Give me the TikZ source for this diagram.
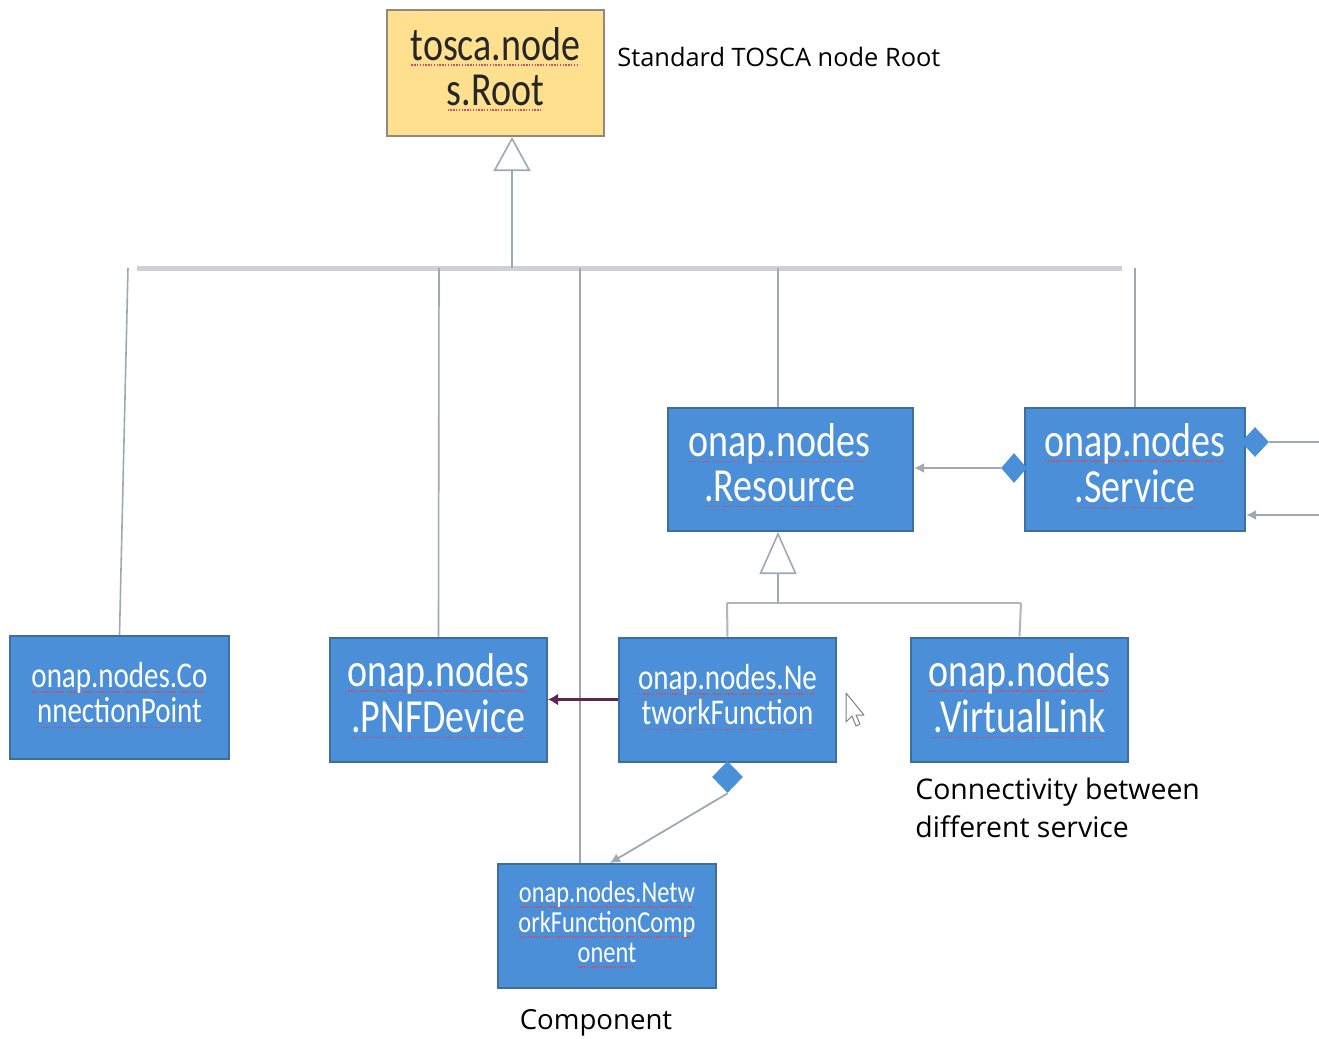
\documentclass[tikz,border=0pt]{standalone}
\usepackage{fontspec}
\setmainfont{Open Sans}
\newfontfamily\boxfont{Carlito}
\usepackage{graphicx}
\usetikzlibrary{arrows.meta,shapes.geometric}
\definecolor{boxblue}{HTML}{4B8FD8}
\definecolor{boxedge}{HTML}{3E6E9E}
\definecolor{rootfill}{HTML}{FFE08E}
\definecolor{rootedge}{HTML}{8E8A80}
\definecolor{squig}{HTML}{C4506C}
\definecolor{conn}{HTML}{9FA9B5}
\definecolor{busgray}{HTML}{CDD1D5}
\definecolor{bus2gray}{HTML}{B2B6BA}
\definecolor{plum}{HTML}{5E2750}
\newcommand\squl[2]{\setbox0\hbox{\color{#1}#2}\rlap{\color{squig}\raisebox{-2.2pt}{\hbox to \wd0{\leaders\hbox to 1.4pt{\hss\vrule width 0.7pt height 0.5pt depth 0pt\hss}\hfill}}}\box0}
\newcommand\sqw[1]{\squl{white}{#1}}
\newcommand\sqd[1]{\squl{black!85}{#1}}
\newcommand\bt[4]{\scalebox{1}[1.25]{\boxfont\fontsize{#1}{#2}\selectfont\begin{tabular}{@{}c@{}}\sqw{#3}\\\sqw{#4}\end{tabular}}}
\newcommand\btt[5]{\scalebox{1}[1.25]{\boxfont\fontsize{#1}{#2}\selectfont\begin{tabular}{@{}c@{}}\sqw{#3}\\\sqw{#4}\\\sqw{#5}\end{tabular}}}
\tikzset{
  bluebox/.style={draw=boxedge, line width=1pt, fill=boxblue, inner sep=0pt,
    minimum width=108.5pt, minimum height=62pt, align=center},
  rootbox/.style={draw=rootedge, line width=1pt, fill=rootfill, inner sep=0pt,
    minimum width=108.5pt, minimum height=63pt, align=center},
  dmd/.style={diamond, fill=boxblue, draw=none, inner sep=0pt},
  thinconn/.style={draw=conn, line width=0.8pt},
  bus/.style={draw=busgray, line width=2.5pt},
  bus2/.style={draw=bus2gray, line width=1.4pt},
  gen/.style={draw=conn, line width=0.8pt, -{Triangle[open, fill=white, length=#1, width=18.5pt]}},
  lbl/.style={inner sep=0pt, text=black}
}
\begin{document}
\begin{tikzpicture}[x=0.5pt, y=-0.5pt]
\fill[white] (0,0) rectangle (1319,1039);
\useasboundingbox (0,0) rectangle (1319,1039);

% nodes
\node[rootbox] (root) at (495.5,73) {\scalebox{1}[1.25]{\boxfont\fontsize{19}{18}\selectfont\begin{tabular}{@{}c@{}}\sqd{tosca.node}\\\sqd{s.Root}\end{tabular}}};
\node[bluebox, minimum width=122.5pt, minimum height=61.5pt] (res) at (790.5,469.5) {\bt{19}{18}{onap.nodes}{.Resource}\hspace*{11pt}};
\node[bluebox, minimum width=110pt, minimum height=61.5pt] (svc) at (1135,469.5) {\bt{19}{18}{onap.nodes}{.Service}};
\node[bluebox, minimum width=109.5pt, minimum height=61.5pt] (cp) at (119.5,697.5) {\bt{14.5}{14}{onap.nodes.Co}{nnectionPoint}};
\node[bluebox] (pnf) at (438.5,699.5) {\bt{19}{18}{onap.nodes}{.PNFDevice}};
\node[bluebox] (nf) at (727.5,699.5) {\bt{14.5}{14}{onap.nodes.Ne}{tworkFunction}};
\node[bluebox] (vl) at (1019.5,699.5) {\bt{19}{18}{onap.nodes}{.VirtualLink}};
\node[bluebox, minimum width=109pt] (nfc) at (607,926) {\btt{12.2}{12}{onap.nodes.Netw}{orkFunctionComp}{onent}};

% labels
\node[lbl, anchor=west, font=\fontsize{12.7}{15}\selectfont] (rootlbl) at (617,57) {Standard TOSCA node Root};
\node[lbl, anchor=north west, align=left, font=\fontsize{14.2}{19}\selectfont] (vllbl) at (915,778) {Connectivity between\\different service};
\node[lbl, anchor=base, font=\fontsize{13.8}{17}\selectfont] (nfclbl) at (596,1029) {Component};

% diamonds
\node[dmd, minimum width=13pt, minimum height=15pt] (sdl) at (1014,468) {};
\node[dmd, minimum width=14pt, minimum height=15pt] (sdr) at (1255,442) {};
\node[dmd, minimum width=15.5pt, minimum height=16pt] (nfd) at (727.5,777) {};

% coordinates
\coordinate (busL) at (137,268);
\coordinate (busR) at (1122,268);
\coordinate (bRoot) at (512,268);
\coordinate (bCp) at (128,268);
\coordinate (bPnf) at (439,268);
\coordinate (bNfc) at (580,268);
\coordinate (bRes) at (778,268);
\coordinate (bSvc) at (1135,268);
\coordinate (b2L) at (727,603);
\coordinate (b2R) at (1021,603);
\coordinate (b2Res) at (778,603);
\coordinate (outA) at (1319,442);
\coordinate (outB) at (1319,515);

% inheritance from Root
\draw[bus] (busL) -- (busR);
\draw[gen=17pt] (bRoot) -- (bRoot |- root.south);
\draw[thinconn] (bCp) -- (cp.north);
\draw[thinconn] (bPnf) -- (pnf.north);
\draw[thinconn] (bNfc) -- (bNfc |- nfc.north);
\draw[thinconn] (bRes) -- (bRes |- res.north);
\draw[thinconn] (bSvc) -- (svc.north);

% inheritance from Resource
\draw[bus2] (b2L) -- (b2R);
\draw[gen=21pt] (b2Res) -- (b2Res |- res.south);
\draw[bus2, line width=1pt] (b2L) -- (nf.north);
\draw[bus2, line width=1pt] (b2R) -- (vl.north);

% associations
\draw[draw=conn, line width=1pt, -{Latex[length=5pt, width=5pt]}] (sdl.west) -- (sdl.west -| res.east);
\draw[draw=conn, line width=1pt] (sdr.east) -- (outA);
\draw[draw=conn, line width=1pt, -{Latex[length=5pt, width=5pt]}] (outB) -- (outB -| svc.east);
\draw[draw=plum, line width=1.5pt, -{Latex[length=5pt, width=6pt]}] (nf.west) -- (pnf.east);
\draw[draw=conn, line width=0.9pt, -{Latex[length=5pt, width=5pt]}] (nfd.south) -- ([xshift=1.5pt]nfc.north);

% mouse cursor
\draw[gray, line width=0.5pt, fill=white, line join=round] (846,693) -- (846,722) -- (852,716) -- (856,726) -- (860,724) -- (856,715) -- (864,715) -- cycle;
\end{tikzpicture}
\end{document}
